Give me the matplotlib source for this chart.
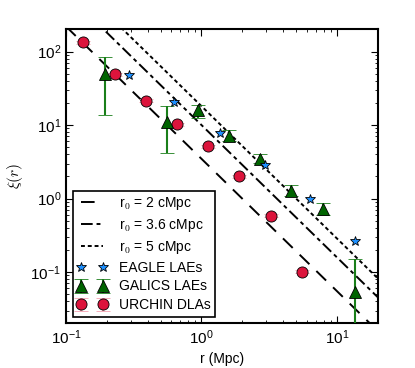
import numpy as np
import matplotlib
matplotlib.use("Agg")
from matplotlib import pyplot as plt

plt.rcParams['font.family'] = ['Liberation Sans', 'DejaVu Sans']
plt.rcParams['mathtext.fontset'] = 'cm'
plt.rcParams['font.size'] = 10

# power law xi(r) = (r/r0)^-gamma
gamma = 1.8
r0_vals = [2.0, 3.6, 5.0]
r0_labels = ['r$_0$ = 2 cMpc', 'r$_0$ = 3.6 cMpc', 'r$_0$ = 5 cMpc']

# EAGLE LAEs
eagle_r = [0.294, 0.631, 1.36, 2.95, 6.34, 13.7]
eagle_xi = [47.4, 20.3, 7.72, 2.85, 1.0, 0.262]

# GALICS LAEs
galics_r = [0.194, 0.557, 0.949, 1.60, 2.71, 4.59, 7.87, 13.5]
galics_xi = [48.9, 10.9, 15.8, 7.03, 3.48, 1.27, 0.72, 0.0532]
galics_hi = [84.0, 18.3, 18.6, 8.47, 4.05, 1.53, 0.88, 0.150]
galics_lo = [13.8, 4.19, 12.6, 6.03, 3.03, 1.10, 0.59, 0.001]

# URCHIN DLAs
urchin_r = [0.134, 0.230, 0.388, 0.661, 1.12, 1.91, 3.27, 5.51]
urchin_xi = [134.0, 48.9, 21.4, 10.3, 5.15, 2.01, 0.583, 0.101]

fig = plt.figure(figsize=(4.15, 3.68), dpi=100)
ax = fig.add_axes([0.159, 0.121, 0.751, 0.799])

#model lines
rr = np.logspace(-1, np.log10(20), 200)
dashes = [(7, 5), (6, 2, 2, 2), (2, 1.5)]
for r0, lab, d in zip(r0_vals, r0_labels, dashes):
	ax.plot(rr, (rr / r0) ** (-gamma), color='k', lw=1.4, dashes=d, label=lab)

ax.plot(eagle_r, eagle_xi, ls='none', marker='*', ms=7, mfc='#1e90ff',
	mec='k', mew=0.6, label='EAGLE LAEs', zorder=5)

gx = np.array(galics_xi)
gerr = [gx - np.array(galics_lo), np.array(galics_hi) - gx]
ax.errorbar(galics_r, galics_xi, yerr=gerr, fmt='^', ms=8, mfc='#006400',
	mec='k', mew=0.6, ecolor='#1a7f1a', elinewidth=1.5, capsize=5, capthick=1,
	label='GALICS LAEs', zorder=4)

ux = np.array(urchin_xi)
ax.errorbar(urchin_r, urchin_xi, yerr=0.05 * ux, fmt='o', ms=8, mfc='#dc143c',
	mec='k', mew=0.6, ecolor='#f4a0b0', elinewidth=1.5, capsize=5,
	label='URCHIN DLAs', zorder=3)

ax.set_xscale('log')
ax.set_yscale('log')
ax.set_xlim(0.1, 20)
ax.set_ylim(0.02, 200)
ax.set_xlabel('r (Mpc)')
ax.set_ylabel(r'$\xi(r)$', fontsize=11)
ax.tick_params(which='both', direction='in', top=True, right=True)
ax.tick_params(which='major', length=5, labelsize=11)
ax.tick_params(which='minor', length=2.5)
for s in ax.spines.values():
	s.set_linewidth(1.5)

leg = ax.legend(loc='lower left', numpoints=2, fancybox=False, framealpha=1,
	edgecolor='k', borderaxespad=0.5, handlelength=2.2, labelspacing=0.35,
	borderpad=0.3)
leg.get_frame().set_linewidth(1.2)

fig.savefig('out.png', dpi=100)
